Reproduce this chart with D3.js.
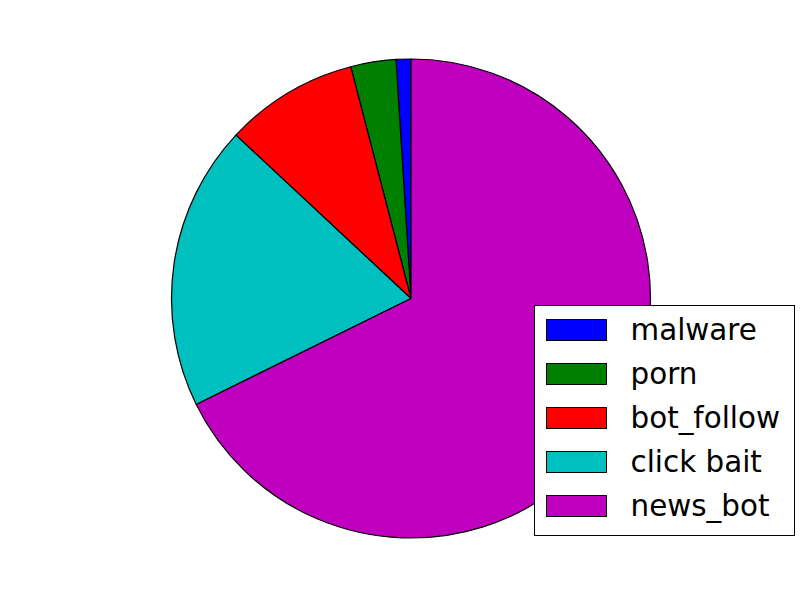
<!doctype html>
<html lang="en">
<head>
  <meta charset="utf-8">
  <title>Pie</title>
  <script src="https://d3js.org/d3.v7.min.js"></script>
<style>
body { margin: 0; background: #fff; }
svg { display: block; font-family: "DejaVu Sans", sans-serif; }
</style>
</head>
<body>
<div class="chart"></div>
<script>

  // slice labels, in counter-clockwise order from the top
  let labels = ['malware', 'porn', 'bot_follow', 'click bait', 'news_bot'];
  // share of each slice (percent)
  let values = [1.0, 3.05, 9.0, 19.25, 67.7];
  let colors = ['#0000ff', '#008000', '#ff0000', '#00bfbf', '#bf00bf'];

  let w = 800, h = 600;
  let cx = 411, cy = 298.5, r = 239.5;

  let svg = d3.select('.chart').append('svg')
    .attr('width', w)
    .attr('height', h);

  let data = labels.map((d, i) => ({ label: d, value: values[i], color: colors[i] }));

  // matplotlib draws counter-clockwise starting at 12 o'clock,
  // d3 goes clockwise, so run angles negative
  let pie = d3.pie()
    .value(d => d.value)
    .sort(null)
    .startAngle(0)
    .endAngle(-2 * Math.PI);

  let arc = d3.arc().innerRadius(0).outerRadius(r);

  svg.append('g')
    .attr('transform', 'translate(' + cx + ',' + cy + ')')
    .selectAll('path')
    .data(pie(data))
    .enter()
    .append('path')
    .attr('d', arc)
    .attr('fill', d => d.data.color)
    .attr('stroke', 'black')
    .attr('stroke-width', 1.2)
    .attr('stroke-linejoin', 'round');

  // legend
  let lx = 534.5, ly = 305.5, lw = 260, lh = 230;
  let legend = svg.append('g');

  legend.append('rect')
    .attr('x', lx)
    .attr('y', ly)
    .attr('width', lw)
    .attr('height', lh)
    .attr('fill', 'white')
    .attr('stroke', 'black')
    .attr('stroke-width', 1);

  let rowY = d3.scalePoint()
    .domain(labels)
    .range([330, 506]);

  let rows = legend.selectAll('g.row')
    .data(data)
    .enter()
    .append('g')
    .attr('class', 'row')
    .attr('transform', d => 'translate(0,' + rowY(d.label) + ')');

  rows.append('rect')
    .attr('x', 546.5)
    .attr('y', -10.5)
    .attr('width', 60)
    .attr('height', 21)
    .attr('fill', d => d.color)
    .attr('stroke', 'black')
    .attr('stroke-width', 1);

  rows.append('text')
    .attr('x', 630.5)
    .attr('y', 10)
    .attr('font-size', 29.4)
    .attr('fill', 'black')
    .text(d => d.label);

</script>
</body>
</html>
